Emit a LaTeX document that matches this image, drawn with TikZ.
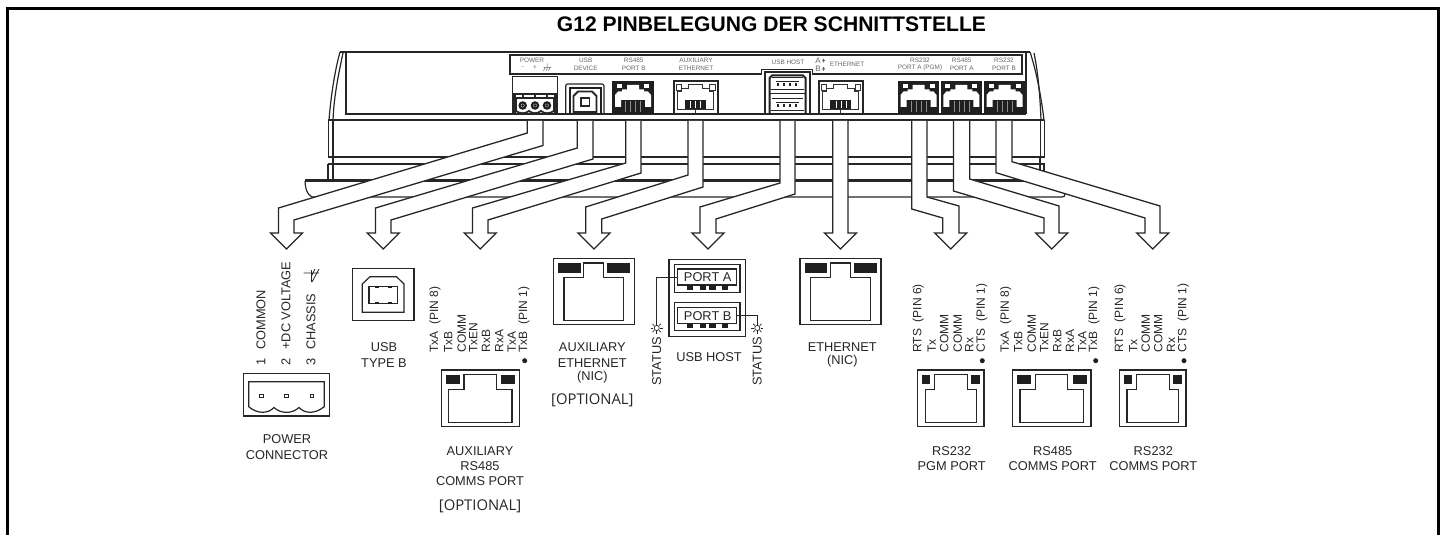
\documentclass[tikz,border=0pt]{standalone}
\usepackage{fontspec}
\setmainfont{Liberation Sans}
\newfontfamily\optfont{Open Sans}
\newcommand{\fs}[1]{\fontsize{#1}{#1}\selectfont}
\tikzset{
  ln/.style={draw=black!85,line width=0.6pt,line join=miter},
  arrowbody/.style={draw=black!85,fill=white,line width=0.65pt,line join=miter},
  capt/.style={inner sep=0pt,text=black!85,font=\fs{6.4}},
  opttxt/.style={inner sep=0pt,text=black!85,font=\optfont\fs{7.4}},
  pinlab/.style={inner sep=0pt,rotate=90,anchor=west,text=black!85,font=\fs{6}},
  tinytxt/.style={inner sep=0pt,text=black!60,font=\fs{3.2}},
  padfill/.style={fill=black!88,draw=none},
}
% arrow: xl xr yl yr | xL xR yL yR | tip x
\newcommand{\flowarrow}[9]{%
  \path[arrowbody] (#1,121) -- (#1,#3) -- (#5,#7) -- (#5,233) -- (#9-16,233) -- (#9,249) -- (#9+16,233) -- (#6,233) -- (#6,#8) -- (#2,#4) -- (#2,121);
}
% front view of a modular jack: xl xr yt yb ledw keyhalf inset
\newcommand{\jackfront}[7]{%
  \draw[ln] (#1,#3) rectangle (#2,#4);
  \fill[padfill] (#1+4.5,#3+4.8) rectangle (#1+4.5+#5,#3+14.2);
  \fill[padfill] (#2-4.5-#5,#3+4.8) rectangle (#2-4.5,#3+14.2);
  \draw[ln] (#1+#7,#3+19.3) -- (#1+#7,#4-4.6) -- (#2-#7,#4-4.6) -- (#2-#7,#3+19.3) -- (#1/2+#2/2+#6,#3+19.3) -- (#1/2+#2/2+#6,#3+4.6) -- (#1/2+#2/2-#6,#3+4.6) -- (#1/2+#2/2-#6,#3+19.3) -- cycle;
}
% housing jack, dark
\newcommand{\jackdark}[2]{%
  \fill[black!88] (#1,81) rectangle (#2,114.5);
  \fill[white] (#1/2+#2/2-18,107) -- (#1/2+#2/2-18,95) -- (#1/2+#2/2-15,91.5) -- (#1/2+#2/2-11,91.5) -- (#1/2+#2/2-11,89.5) -- (#1/2+#2/2-6,89.5) -- (#1/2+#2/2-6,85) -- (#1/2+#2/2+6,85) -- (#1/2+#2/2+6,89.5) -- (#1/2+#2/2+11,89.5) -- (#1/2+#2/2+11,91.5) -- (#1/2+#2/2+15,91.5) -- (#1/2+#2/2+18,95) -- (#1/2+#2/2+18,107) -- (#1/2+#2/2+12,107) -- (#1/2+#2/2+12,100) -- (#1/2+#2/2-12,100) -- (#1/2+#2/2-12,107) -- cycle;
  \fill[white] (#1/2+#2/2-16,84.5) rectangle (#1/2+#2/2-11,88.5);
  \fill[white] (#1/2+#2/2+11,84.5) rectangle (#1/2+#2/2+16,88.5);
  \foreach \dd in {-7.5,-2.5,2.5,7.5} {\draw[black!45,line width=0.2pt] (#1/2+#2/2+\dd,101) -- (#1/2+#2/2+\dd,112);}
}
% housing jack, light
\newcommand{\jacklight}[2]{%
  \draw[black!85,line width=1pt] (#1,81.5) rectangle (#2,114);
  \draw[black!80,line width=0.5pt] (#1/2+#2/2-18,110) -- (#1/2+#2/2-18,91.5) -- (#1/2+#2/2-14,91.5) -- (#1/2+#2/2-14,89) -- (#1/2+#2/2-7,89) -- (#1/2+#2/2-7,85) -- (#1/2+#2/2+7,85) -- (#1/2+#2/2+7,89) -- (#1/2+#2/2+14,89) -- (#1/2+#2/2+14,91.5) -- (#1/2+#2/2+18,91.5) -- (#1/2+#2/2+18,110) -- cycle;
  \draw[black!80,line width=0.4pt] (#1+2.5,84) rectangle (#1+8,90);
  \draw[black!80,line width=0.4pt] (#2-8,84) rectangle (#2-2.5,90);
  \fill[padfill] (#1/2+#2/2-10.5,100.5) rectangle (#1/2+#2/2+10.5,109);
  \foreach \dd in {-5,0,5} {\draw[white,line width=0.25pt] (#1/2+#2/2+\dd,101) -- (#1/2+#2/2+\dd,108.5);}
  \draw[black!80,line width=0.4pt] (#1/2+#2/2,109) -- (#1/2+#2/2,114);
}
\newcommand{\pinlabels}[2]{%
  \foreach \px/\ptxt [count=\pcnt] in {#2} {\node[pinlab] (#1\pcnt) at (\px,353) {\ptxt};}
}
\newcommand{\usbhostport}[3]{%
  \draw[ln] (674.3,#1) rectangle (740,#1+28);
  \draw[ln] (677.7,#2) rectangle (736.7,#2+16);
  \foreach \xx in {690,702.7,712.3,725} {\fill[padfill] (\xx-3.2,#2+16.3) rectangle (\xx+3.2,#2+20.5);}
  \node[capt] (#3) at (707.7,#2+8) {#3};
}
\newcommand{\sunmark}[1]{%
  \draw[black!85,line width=0.35pt] (#1) circle (2.6);
  \foreach \ang in {0,45,...,315} {\draw[black!85,line width=0.35pt] (#1) ++(\ang:3.4) -- ++(\ang:2.5);}
}
\begin{document}
\begin{tikzpicture}[x=0.5pt,y=-0.5pt]
\useasboundingbox (0,0) rectangle (1442,535);
% frame
\draw[black,line width=1.4pt] (7.3,535) -- (7.3,8.3) -- (1438.7,8.3) -- (1438.7,535);
\node[inner sep=0pt,font=\bfseries\fs{10.55},text=black] (title) at (771.5,24) {G12 PINBELEGUNG DER SCHNITTSTELLE};
% ---- housing
\draw[black!85,line width=0.9pt] (340,52) -- (1030,52);
\draw[ln] (510,74) -- (510,55) -- (1022,55) -- (1022,74) -- (812.7,74) -- (812.7,69.5) -- (761.7,69.5) -- (761.7,74) -- cycle;
\draw[black!85,line width=0.8pt] (346,52) -- (346,115);
\draw[ln] (340,52) .. controls (335,70) and (331,95) .. (329,120);
\draw[ln] (343,53) .. controls (339,72) and (334,95) .. (333,120);
\draw[black!85,line width=0.8pt] (1026,52) -- (1026,114);
\draw[ln] (1030,52) .. controls (1036,70) and (1041,95) .. (1044,120);
\draw[ln] (1034,53) .. controls (1038,72) and (1040,95) .. (1041,120);
\draw[ln] (346,114) -- (1026,114);
\draw[black!85,line width=1pt] (328,120.5) -- (1044,120.5);
\draw[ln] (328.5,120) -- (328.5,157) -- (1044.5,157) -- (1044.5,120);
\draw[ln] (333,120) -- (333,157);
\draw[ln] (1040.5,120) -- (1040.5,157);
\draw[ln] (328,164) -- (1044,164) -- (1044,171);
\draw[ln] (328,164) -- (328,180);
\draw[ln] (333,157) -- (333,180);
\draw[ln] (1040,157) -- (1040,171);
\draw[ln] (305,180) -- (1025,180);
\draw[ln] (305,181.7) -- (1025,181.7);
\draw[ln] (305,181) .. controls (305.3,188) and (306.5,194) .. (312,197) -- (1062,197) .. controls (1064,197) and (1065,196) .. (1065,194);
% power connector
\draw[black!85,line width=0.8pt] (512.5,76.5) rectangle (557.5,114);
\fill[black!85] (512.5,93.5) rectangle (557.5,95);
\fill[black!85] (513,95) rectangle (516,114);
\fill[black!85] (554,95) rectangle (557.5,114);
\draw[black!85,line width=0.9pt] (516,98) -- (554,98) -- (554,111) .. controls (549,114) and (545,114) .. (541,111) .. controls (537,114) and (533,114) .. (529,111) .. controls (525,114) and (520,114) .. (516,111) -- cycle;
\foreach \cx in {522.7,535,547} {\draw[black!88,line width=1.1pt] (\cx,105.5) circle (3.1); \fill[black!88] (\cx,105.5) circle (1.6);}
\foreach \cx in {522.7,535,547} {\fill[black!85] (\cx-0.8,95) rectangle (\cx+0.8,98);}
% usb device
\draw[ln,rounded corners=1pt] (565.7,114) -- (565.7,84) -- (604,84) -- (604,114);
\draw[black!88,line width=1pt] (569.5,114) -- (569.5,88.5) -- (600.5,88.5) -- (600.5,114);
\draw[black!85,line width=0.9pt] (573.5,112) -- (573.5,96) -- (578,91.5) -- (592,91.5) -- (596.5,96) -- (596.5,112) -- cycle;
\fill[black!85] (580,97) rectangle (590,107);
\fill[white] (581.5,99) rectangle (588.5,105);
% jacks
\jackdark{612}{654}
\jackdark{898}{939}
\jackdark{941}{981.7}
\jackdark{984}{1025}
\jacklight{673.5}{717.5}
\jacklight{818.5}{863}
% usb host
\draw[ln] (765,114) -- (765,72) -- (810,72) -- (810,114);
\draw[black!88,line width=1pt] (769.5,114.5) -- (769.5,78) -- (772,75.5) -- (803,75.5) -- (805.5,78) -- (805.5,114.5);
\foreach \uy in {77,98} {
  \draw[black!85,line width=0.5pt] (772,\uy+1) -- (803,\uy+1);
  \fill[black!85] (776,\uy+4) rectangle (799,\uy+5.5);
  \foreach \xx in {778,784,790,796} {\fill[black!85] (\xx-1.2,\uy+6) rectangle (\xx+1.2,\uy+9);}
  \draw[black!85,line width=0.5pt] (771,\uy+12.5) -- (804,\uy+12.5);
}
\fill[black!85] (770,93) rectangle (805,94.5);
% small labels on the housing
\node[tinytxt] (pw) at (532,60) {POWER};
\node[tinytxt] (pwm) at (522.7,68) {-};
\node[tinytxt] (pwp) at (535,68) {+};
\draw[black!60,line width=0.25pt] (547,63.5) -- (547,67.5) (543.5,67.5) -- (551,67.5) (545,67.5) -- (543.5,71) (547.5,67.5) -- (546,71) (550,67.5) -- (548.5,71);
\node[tinytxt] (ud1) at (585.7,60) {USB};
\node[tinytxt] (ud2) at (585.7,68) {DEVICE};
\node[tinytxt] (rb1) at (633.7,60) {RS485};
\node[tinytxt] (rb2) at (633.7,68) {PORT B};
\node[tinytxt] (ae1) at (696,60) {AUXILIARY};
\node[tinytxt] (ae2) at (696,68) {ETHERNET};
\node[tinytxt] (uh) at (788,62.7) {USB HOST};
\node[tinytxt,anchor=west,font=\fs{4}] (aa) at (815,60.5) {A};
\node[tinytxt,anchor=west,font=\fs{4}] (bb) at (815,68.5) {B};
\fill[black!60] (823.5,58.5) -- (825,61) -- (824,61) -- (824,62.5) -- (823,62.5) -- (823,61) -- (822,61) -- cycle;
\fill[black!60] (823.5,71) -- (825,68.5) -- (824,68.5) -- (824,67) -- (823,67) -- (823,68.5) -- (822,68.5) -- cycle;
\node[tinytxt] (et) at (847,64.5) {ETHERNET};
\node[tinytxt] (ra1) at (920,60) {RS232};
\node[tinytxt] (ra2) at (920,68) {PORT A (PGM)};
\node[tinytxt] (pa1) at (961.7,60) {RS485};
\node[tinytxt] (pa2) at (961.7,68) {PORT A};
\node[tinytxt] (bb1) at (1004,60) {RS232};
\node[tinytxt] (bb2) at (1004,68) {PORT B};
% ---- flow arrows
\flowarrow{527.3}{543}{133}{145.5}{278.5}{294}{208}{220}{286.5}
\flowarrow{577.3}{593}{148}{159}{375.5}{391}{208}{220}{383.3}
\flowarrow{625.7}{641}{163}{173}{472.5}{488}{208}{220}{480.3}
\flowarrow{688}{703}{175}{187}{585.7}{601.7}{207}{219}{594}
\flowarrow{780}{795}{183}{194}{700}{716}{207}{219}{708}
\flowarrow{832.7}{848}{233}{233}{832.7}{848}{233}{233}{840.5}
\flowarrow{911.7}{927}{209}{197}{942.7}{959}{218}{206}{950.7}
\flowarrow{953.5}{969.7}{191}{179}{1044}{1059}{218}{206}{1051.7}
\flowarrow{996}{1012}{172.7}{161.7}{1145}{1160}{218}{206}{1152.7}
% ---- power connector diagram
\draw[ln] (243.3,373.3) rectangle (329.3,416);
\draw[ln] (248.7,381.7) -- (324.3,381.7) -- (324.3,406.7) .. controls (315,414) and (305,414) .. (299,407.5) .. controls (292,414) and (281,414) .. (274,407.5) .. controls (268,414) and (257,414) .. (248.7,406.7) -- cycle;
\foreach \cx in {261.3,286.3,311.7} {\draw[black!85,line width=0.5pt] (\cx-1.7,394.3) rectangle (\cx+1.7,397.7);}
\node[pinlab,font=\fs{6.4}] (p1) at (261,366) {1\hspace{4.4pt}COMMON};
\node[pinlab,font=\fs{6.4}] (p2) at (286,366) {2\hspace{4.4pt}+DC VOLTAGE};
\node[pinlab,font=\fs{6.4}] (p3) at (311,366) {3\hspace{4.4pt}CHASSIS};
\draw[black!85,line width=0.4pt] (311.5,270) -- (311.5,282) (303.5,273) -- (319,273) (319,269) -- (312,282) (315,269) -- (311.5,276);
\node[capt] (c1) at (287,439) {POWER};
\node[capt] (c2) at (287,455) {CONNECTOR};
% ---- usb type b
\draw[ln] (352.7,268.7) rectangle (414,320.3);
\draw[ln] (362.3,312.3) -- (362.3,284) -- (370,276.7) -- (396.5,276.7) -- (404,284) -- (404,312.3) -- cycle;
\draw[ln] (369,286.7) rectangle (397.7,303.3);
\foreach \xx in {377,390} {\fill[padfill] (\xx-2,285.6) rectangle (\xx+2,287.6); \fill[padfill] (\xx-2,302.4) rectangle (\xx+2,304.4);}
\node[capt] (u1) at (384,346.7) {USB};
\node[capt] (u2) at (384,362.7) {TYPE B};
% ---- aux rs485
\jackfront{441.3}{519.3}{370}{426.7}{14.3}{16.3}{7.4}
\fill[black!88] (524.7,360.7) circle (2.5);
\pinlabels{a}{435/TxA\hspace{3.4pt}(PIN 8),448.3/TxB,461.7/COMM,473.3/TxEN,486/RxB,499.3/RxA,511.7/TxA,524/TxB\hspace{3.4pt}(PIN 1)}
\node[capt] (a21) at (480,450.7) {AUXILIARY};
\node[capt] (a22) at (480,466) {RS485};
\node[capt] (a23) at (480,481) {COMMS PORT};
\node[opttxt] (a24) at (480,506) {[OPTIONAL]};
% ---- aux ethernet
\jackfront{553.3}{634.3}{258.3}{324.7}{22.7}{10}{10.7}
\node[capt] (e1) at (592.3,346.7) {AUXILIARY};
\node[capt] (e2) at (592.3,362.7) {ETHERNET};
\node[capt] (e3) at (592.3,377) {(NIC)};
\node[opttxt] (e4) at (592.3,400) {[OPTIONAL]};
% ---- usb host
\draw[ln] (669,259.7) rectangle (745.3,336.3);
\usbhostport{264.3}{269}{PORT A}
\usbhostport{302.3}{307.7}{PORT B}
\coordinate (sa) at (656.7,328);
\coordinate (sb) at (757.3,328);
\draw[black!85,line width=0.45pt] (677.7,277) -- (656.7,277) -- (656.7,325.4);
\draw[black!85,line width=0.45pt] (736.7,315.7) -- (757.3,315.7) -- (757.3,325.4);
\sunmark{sa}
\sunmark{sb}
\node[pinlab,font=\fs{6.4}] (s1) at (656.7,386) {STATUS};
\node[pinlab,font=\fs{6.4}] (s2) at (757.3,386) {STATUS};
\node[capt] (uh2) at (709,357.3) {USB HOST};
% ---- ethernet
\jackfront{800}{881}{258.3}{324.7}{22.7}{10}{10.7}
\node[capt] (n1) at (842.3,346.7) {ETHERNET};
\node[capt] (n2) at (842.3,361) {(NIC)};
% ---- rs232 pgm
\jackfront{917.7}{984}{370}{426.7}{8.2}{16.5}{7.6}
\fill[black!88] (982.3,360.7) circle (2.5);
\pinlabels{b}{918.3/RTS\hspace{3.4pt}(PIN 6),931.7/Tx,944.3/COMM,957.7/COMM,969.3/Rx,981.7/CTS\hspace{3.4pt}(PIN 1)}
\node[capt] (r1) at (951.7,450.7) {RS232};
\node[capt] (r2) at (951.7,466) {PGM PORT};
% ---- rs485
\jackfront{1012.3}{1091}{370}{426.7}{14}{16}{7.7}
\fill[black!88] (1095.7,360.7) circle (2.5);
\pinlabels{c}{1005.7/TxA\hspace{3.4pt}(PIN 8),1018.3/TxB,1031.7/COMM,1044.3/TxEN,1057.3/RxB,1070/RxA,1082.3/TxA,1094/TxB\hspace{3.4pt}(PIN 1)}
\node[capt] (h1) at (1052.7,450.7) {RS485};
\node[capt] (h2) at (1052.7,466) {COMMS PORT};
% ---- rs232 comms
\jackfront{1119.3}{1186}{370}{426.7}{8.2}{16.5}{7.6}
\fill[black!88] (1184,360.7) circle (2.5);
\pinlabels{d}{1120/RTS\hspace{3.4pt}(PIN 6),1133.3/Tx,1145.7/COMM,1158.3/COMM,1171/Rx,1183.3/CTS\hspace{3.4pt}(PIN 1)}
\node[capt] (k1) at (1153.3,450.7) {RS232};
\node[capt] (k2) at (1153.3,466) {COMMS PORT};
\end{tikzpicture}
\end{document}
